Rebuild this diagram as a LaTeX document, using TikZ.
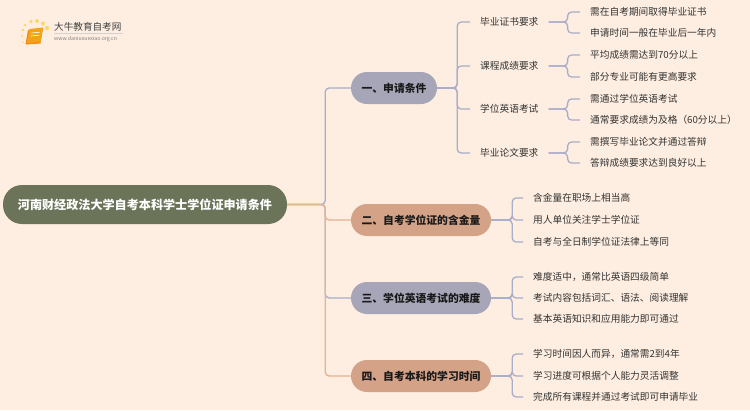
\documentclass[tikz,border=0pt]{standalone}
\usepackage{fontspec}
\setmainfont{Noto Sans CJK SC}
\definecolor{bg}{HTML}{FEEEE1}
\definecolor{rootc}{HTML}{6B7459}
\definecolor{lav}{HTML}{A7A6B9}
\definecolor{pch}{HTML}{D4A287}
\definecolor{lavl}{HTML}{A9ADC9}
\definecolor{pchl}{HTML}{E3B394}
\definecolor{txt}{HTML}{333333}
\definecolor{bookc}{HTML}{F2A31B}
\definecolor{dotc}{HTML}{FBD76A}
\begin{document}
\begin{tikzpicture}[x=1pt,y=-1pt,
  rootbox/.style={rectangle, rounded corners=19pt, fill=rootc, text=white, minimum width=284pt, minimum height=39pt, font=\bfseries\fontsize{12.1}{14}\selectfont, inner sep=0pt},
  mainbox/.style={rectangle, rounded corners=16pt, minimum height=32pt, font=\bfseries\fontsize{10.8}{13}\selectfont, text=black!90, inner sep=0pt},
  subtext/.style={anchor=west, inner xsep=10pt, inner ysep=2pt, text=txt, font=\fontsize{9.7}{12}\selectfont},
  leaftext/.style={anchor=west, inner xsep=10pt, inner ysep=2pt, text=txt, font=\fontsize{9.7}{12}\selectfont},
  lavline/.style={draw=lavl, line width=1.3pt, rounded corners=4pt},
  pchline/.style={draw=pchl, line width=1.3pt, rounded corners=4pt}]
\useasboundingbox (0,0) rectangle (750,410);
\fill[bg] (0,0) rectangle (750,410);

% logo
\foreach \p/\r in {(23,42)/0.9,(22,36)/1.1,(23,30)/1.3,(25,25)/1.5,(31,21.5)/1.8,(37,21)/2.0,(43,23.5)/2.1,(47,28)/2.2}
  \fill[dotc] \p circle (\r);
\fill[bookc!85!red] (28,30) -- (43,28.5) -- (40.5,43.5) -- (25.5,44.5) -- cycle;
\fill[bookc] (29.5,29) -- (43,27.5) -- (40.5,42) -- (27,43) -- cycle;
\draw[white, line width=0.6pt] (31.5,33) -- (39.5,32.2);
\draw[white, line width=0.6pt] (31,36) -- (39,35.2);
\node[anchor=west, inner sep=0pt, text=black!75, font=\fontsize{9.6}{10}\selectfont] (logot) at (54,27) {大牛教育自考网};
\draw[gray!35, line width=0.4pt] (54,33.5) -- (123,33.5);
\node[anchor=west, inner sep=0pt, text=gray, font=\fontsize{5.2}{6}\selectfont] (logou) at (54,39) {www.daniuxuexiao.org.cn};

% main nodes
\node[rootbox] (root) at (145,204.5) {河南财经政法大学自考本科学士学位证申请条件};
\node[mainbox, fill=lav, minimum width=86pt] (n1) at (394,88) {一、申请条件};
\node[mainbox, fill=pch, minimum width=140pt] (n2) at (421,220) {二、自考学位证的含金量};
\node[mainbox, fill=lav, minimum width=140pt] (n3) at (421,298) {三、学位英语考试的难度};
\node[mainbox, fill=pch, minimum width=140pt] (n4) at (421,376) {四、自考本科的学习时间};

% trunk connectors
\draw[lavline] (root.east) -- ++(38,0) |- (n1.west);
\draw[pchline] (root.east) -- ++(38,0) |- (n2.west);
\draw[lavline] (root.east) -- ++(38,0) |- (n3.west);
\draw[pchline] (root.east) -- ++(38,0) |- (n4.west);

% level 2 of n1
\node[subtext] (c1) at (470,22) {毕业证书要求};
\node[subtext] (c2) at (470,66) {课程成绩要求};
\node[subtext] (c3) at (470,109) {学位英语考试};
\node[subtext] (c4) at (470,153) {毕业论文要求};
\foreach \c in {c1,c2,c3,c4}
  \draw[lavline] (n1.east) -- ++(20,0) |- (\c.west);

% leaves of n1 children
\node[leaftext] (l11) at (580,12) {需在自考期间取得毕业证书};
\node[leaftext] (l12) at (580,33) {申请时间一般在毕业后一年内};
\node[leaftext] (l21) at (580,55) {平均成绩需达到70分以上};
\node[leaftext] (l22) at (580,77) {部分专业可能有更高要求};
\node[leaftext] (l31) at (580,99) {需通过学位英语考试};
\node[leaftext] (l32) at (580,120) {通常要求成绩为及格（60分以上）};
\node[leaftext] (l41) at (580,142) {需撰写毕业论文并通过答辩};
\node[leaftext] (l42) at (580,163) {答辩成绩要求达到良好以上};
\foreach \c/\l in {c1/l11,c1/l12,c2/l21,c2/l22,c3/l31,c3/l32,c4/l41,c4/l42}
  \draw[lavline] (\c.east) -- ++(19,0) |- (\l.west);

% leaves of n2
\node[leaftext] (m21) at (523,198) {含金量在职场上相当高};
\node[leaftext] (m22) at (523,220) {用人单位关注学士学位证};
\node[leaftext] (m23) at (523,242) {自考与全日制学位证法律上等同};
\foreach \l in {m21,m22,m23}
  \draw[lavline] (n2.east) -- ++(21,0) |- (\l.west);

% leaves of n3
\node[leaftext] (m31) at (523,277) {难度适中，通常比英语四级简单};
\node[leaftext] (m32) at (523,298) {考试内容包括词汇、语法、阅读理解};
\node[leaftext] (m33) at (523,319) {基本英语知识和应用能力即可通过};
\foreach \l in {m31,m32,m33}
  \draw[lavline] (n3.east) -- ++(21,0) |- (\l.west);

% leaves of n4
\node[leaftext] (m41) at (523,354) {学习时间因人而异，通常需2到4年};
\node[leaftext] (m42) at (523,376) {学习进度可根据个人能力灵活调整};
\node[leaftext] (m43) at (523,397) {完成所有课程并通过考试即可申请毕业};
\foreach \l in {m41,m42,m43}
  \draw[lavline] (n4.east) -- ++(21,0) |- (\l.west);
\end{tikzpicture}
\end{document}
